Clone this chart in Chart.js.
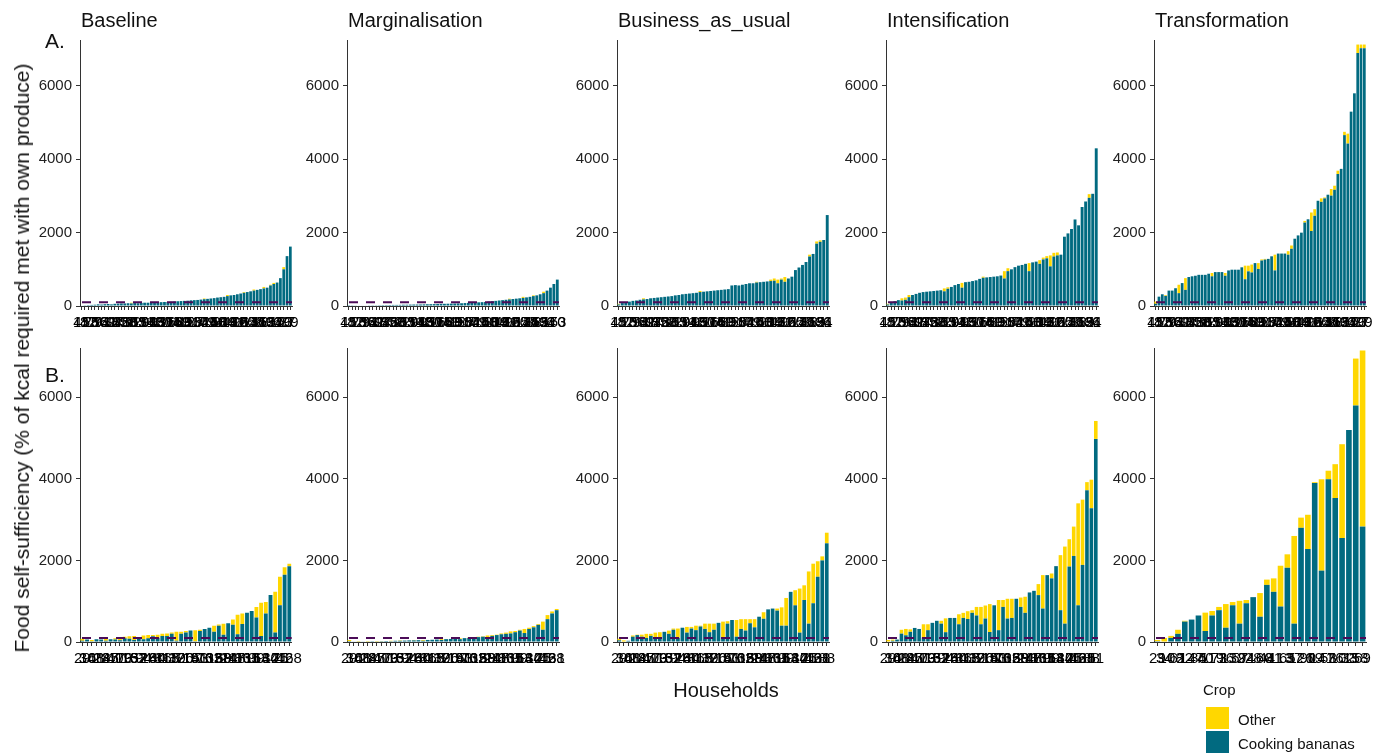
<!DOCTYPE html>
<html><head><meta charset="utf-8">
<script src="https://cdn.jsdelivr.net/npm/chart.js@4.4.1/dist/chart.umd.min.js"></script>
<style>
body{margin:0;background:#fff;width:1379px;height:754px;overflow:hidden;position:relative;font-family:"Liberation Sans",Arial,sans-serif;color:#111;}
.t{position:absolute;white-space:nowrap;line-height:20px;}
.title{font-size:20px;}
.sw{position:absolute;width:23px;height:22px;}
</style></head><body>
<script>
// ---------- data ----------
const hhRowA = "45 112 87 23 156 9 74 131 62 18 97 143 36 120 58 7 165 83 29 104 71 148 12 93 137 50 26 118 66 159 41 89 3 127 55 102 34 151 79 15 140 68 21 109 84 47 162 31 96 125 60 13 146 77 38 115 52 134 91 6 153 70 27 99 59 39".split(" ");
const hhRowB = "29 34 108 61 22 147 85 40 119 73 16 132 57 94 28 160 44 81 113 65 37 126 90 19 141 53 76 102 33 158 69 24 117 48 86 135 11 99 63 144 30 121 75 42 168 31 88 51".split(" ");

const scenarios = ["Baseline", "Marginalisation", "Business_as_usual", "Intensification", "Transformation"];
const yTickValues = [0, 2000, 4000, 6000];
const refValue = 100;

// Row A
const baseA_ban = [15,20,25,30,35,45,40,50,55,45, 60,65,70,70,75,70,80,75,85,90, 90,95,100,100,105,110,110,115,120,130,
  135,140,145,155,160,165,175,185,195,205, 215,230,240,250,270,290,300,320,340,360, 380,400,420,440,460,480,500,560,600,640, 760,1000,1360,1620];
const baseA_oth = [0,0,0,0,0,0,0,0,0,0, 0,0,0,0,0,20,0,0,0,0, 0,0,0,0,0,0,0,0,0,0,
  0,0,0,0,0,0,0,20,0,0, 0,0,0,0,30,0,0,0,0,20, 0,0,30,0,0,40,0,20,30,0, 0,60,0,0];
const margA_ban = [5,8,10,12,15,15,18,20,20,22, 25,25,28,30,30,32,35,35,38,40, 40,42,45,48,50,52,55,58,60,62,
  65,68,70,75,80,85,90,95,100,105, 110,120,130,140,150,160,170,180,190,200, 210,220,235,250,270,290,320,350,420,500, 600,720];
const margA_oth = [0,0,0,0,0,0,0,0,0,0, 0,0,0,0,0,0,0,0,0,0, 0,0,0,0,0,0,0,0,0,0,
  0,0,0,0,0,0,0,0,0,0, 0,0,0,0,0,0,0,20,0,0, 0,30,0,0,20,0,0,40,0,0, 0,0];
const bauA_ban = [40,80,100,120,140,150,170,180,190,210, 220,230,240,250,260,270,290,300,320,330, 340,350,360,380,390,400,410,420,430,440,
  450,460,560,570,560,580,600,620,620,640, 650,660,670,680,690,620,720,660,750,800, 980,1050,1120,1200,1350,1420,1700,1750,1800,2480];
const bauA_oth = [20,0,0,0,0,0,0,30,0,0, 0,0,0,0,0,0,0,0,0,0, 0,0,0,30,0,0,0,0,0,0,
  0,0,0,0,0,0,0,0,0,20, 0,0,0,40,60,100,30,130,0,0, 0,0,0,0,50,0,60,40,0,0];
const intA_ban = [40,110,130,160,150,170,240,300,330,360, 380,390,400,410,420,430,400,470,520,570, 600,500,650,660,680,700,740,770,780,790,
  800,810,830,750,950,1000,1060,1100,1120,1150, 950,1190,1210,1150,1270,1300,1080,1350,1380,1400, 1890,1980,2100,2360,2200,2700,2850,2950,3060,4300];
const intA_oth = [20,0,0,0,60,60,60,0,0,0, 0,0,0,0,0,0,80,40,0,0, 0,130,0,0,0,0,0,30,0,0,
  0,0,0,200,80,0,0,0,0,0, 220,0,0,100,50,60,300,100,80,0, 0,0,0,0,0,0,0,100,0,0];
const traA_ban = [60,255,320,275,420,420,485,350,625,440, 790,810,825,850,850,850,880,810,925,925, 925,825,970,990,990,990,1055,730,945,915,
  1170,1010,1240,1265,1285,1355,970,1430,1430,1430, 1400,1560,1835,1925,2000,2275,2365,2045,2460,2870, 2840,2935,3035,3010,3170,3600,3740,4660,4430,5300, 5800,6900,7030,7030];
const traA_oth = [60,0,0,20,0,0,0,230,0,320, 0,0,0,0,0,0,0,90,0,0, 0,75,0,0,0,0,0,370,155,215,
  0,160,30,20,0,0,430,0,0,0, 95,90,0,0,0,45,0,505,180,0, 95,25,0,180,110,90,0,90,270,0, 0,230,100,100];

// Row B
const baseB_ban = [30,60,20,70,60,30,70,60,40,90, 80,50,120,70,90,140,100,150,150,200, 30,200,230,280,20,270,320,350,250,400,
  180,460,420,190,440,720,760,600,150,700, 1150,230,900,1650,1860];
const baseB_oth = [50,0,30,0,0,60,0,30,80,40, 60,100,0,90,80,30,80,50,60,30, 220,50,40,0,270,30,0,0,150,30,
  270,0,130,480,260,0,0,260,810,280, 0,1000,700,180,60];
const margB_ban = [20,10,10,15,10,20,15,20,25,20, 30,30,35,40,40,45,30,50,55,60, 50,70,75,80,70,95,100,110,120,130,
  100,150,170,190,200,210,240,280,220,320, 360,420,300,560,700,780];
const margB_oth = [30,0,10,0,10,0,10,5,0,10, 0,10,0,0,10,0,20,0,0,0, 20,0,0,0,20,0,10,10,10,10,
  60,20,10,20,30,50,30,20,100,30, 30,20,200,100,50,30];
const bauB_ban = [40,0,30,130,170,130,100,150,80,120, 250,200,300,100,350,230,330,290,380,320, 240,300,470,100,450,540,130,320,280,460,
  360,620,570,800,820,770,400,400,1230,900, 230,1030,450,950,1600,2000,2420];
const bauB_oth = [40,40,0,30,10,50,100,50,150,120, 0,80,30,230,0,140,40,110,20,130, 210,150,0,400,60,0,410,240,280,100,
  200,0,160,0,0,50,450,680,0,370, 1080,360,1280,970,380,100,260];
const intB_ban = [0,30,60,205,165,250,345,320,105,290, 470,520,450,240,590,590,435,590,565,715, 650,435,575,245,900,290,860,575,590,1060,
  860,715,1215,1255,1150,820,1640,1560,1860,780, 450,1850,2110,900,1890,3720,3280,4980];
const intB_oth = [50,30,0,95,155,60,0,0,330,145, 0,0,70,340,0,0,245,125,190,65, 210,425,320,685,0,740,170,485,470,0,
  230,395,0,0,270,820,0,120,0,1350, 1890,670,720,2500,1600,200,700,440];
const traB_ban = [20,0,100,200,500,550,650,270,650,780, 350,900,450,950,1100,620,1400,1230,870,1820,
  450,2800,2280,3900,1750,3990,3530,2550,5200,5800, 2830];
const traB_oth = [30,100,50,100,20,0,0,450,110,80, 580,80,560,80,0,580,130,330,1000,330,
  2150,250,840,20,2240,210,830,2300,0,1150, 4320];

// ---------- drawing ----------
const COL_BAN = '#016a80', COL_OTH = '#ffd700', COL_REF = '#4b0c58';
const axisX = [80, 347, 617, 886, 1154];

const refLine = {
  id: 'refLine',
  afterDatasetsDraw(chart) {
    const {ctx, chartArea: a, scales: {y}} = chart;
    const py = y.getPixelForValue(refValue);
    ctx.save();
    ctx.strokeStyle = COL_REF; ctx.lineWidth = 2; ctx.setLineDash([9, 8]);
    ctx.beginPath(); ctx.moveTo(a.left + 2, py); ctx.lineTo(a.right, py); ctx.stroke();
    ctx.restore();
  }
};

function panel(left, top, height, ids, ban, oth, ymax) {
  const c = document.createElement('canvas');
  c.width = 288; c.height = height;
  c.style.cssText = `position:absolute;left:${left}px;top:${top}px;width:288px;height:${height}px`;
  document.body.appendChild(c);
  new Chart(c, {
    type: 'bar',
    data: {
      labels: ids.slice(0, ban.length),
      datasets: [
        {label: 'Cooking bananas', data: ban, backgroundColor: COL_BAN, barPercentage: 0.82, categoryPercentage: 1},
        {label: 'Other', data: oth, backgroundColor: COL_OTH, barPercentage: 0.82, categoryPercentage: 1}
      ]
    },
    options: {
      responsive: false, animation: false, devicePixelRatio: 1,
      layout: {padding: {top: 14, right: 14, left: 0, bottom: 0}},
      plugins: {legend: {display: false}, tooltip: {enabled: false}},
      scales: {
        x: {
          stacked: true, offset: true,
          grid: {offset: false, drawOnChartArea: false, tickLength: 4, color: '#333', lineWidth: 1},
          border: {color: '#333'},
          ticks: {autoSkip: false, maxRotation: 0, minRotation: 0, padding: 4, color: '#000', font: {size: 15, family: 'Liberation Sans'}},
          afterFit(s) { s.height = 28; }
        },
        y: {
          stacked: true, min: 0, max: ymax,
          ticks: {padding: 4, color: '#222', font: {size: 15, family: 'Liberation Sans'}, callback: v => String(v)},
          grid: {drawOnChartArea: false, tickLength: 4, color: '#333'},
          border: {color: '#333'},
          afterFit(s) { s.width = 62; },
          afterBuildTicks(s) { s.ticks = yTickValues.map(v => ({value: v})); }
        }
      }
    },
    plugins: [refLine]
  });
}

const rowA = [[baseA_ban, baseA_oth], [margA_ban, margA_oth], [bauA_ban, bauA_oth], [intA_ban, intA_oth], [traA_ban, traA_oth]];
const rowB = [[baseB_ban, baseB_oth], [margB_ban, margB_oth], [bauB_ban, bauB_oth], [intB_ban, intB_oth], [traB_ban, traB_oth]];
rowA.forEach((d, i) => panel(axisX[i] - 62, 26, 308, hhRowA, d[0], d[1], 7254));
rowB.forEach((d, i) => panel(axisX[i] - 62, 334, 336, hhRowB, d[0], d[1], 7209));

function txt(s, css, cls) {
  const e = document.createElement('div');
  e.className = 't ' + (cls || ''); e.textContent = s; e.style.cssText += css;
  document.body.appendChild(e); return e;
}
scenarios.forEach((s, i) => txt(s, `left:${axisX[i] + 1}px;top:10px;`, 'title'));
txt('A.', 'left:45px;top:31px;font-size:21px;');
txt('B.', 'left:45px;top:365px;font-size:21px;');
txt('Food self-sufficiency (% of kcal required met with own produce)', 'left:22px;top:358px;font-size:21px;transform:translate(-50%,-50%) rotate(-90deg);');
txt('Households', 'left:726px;top:690px;font-size:20px;transform:translate(-50%,-50%);');
txt('Crop', 'left:1203px;top:680px;font-size:15px;');
txt('Other', 'left:1238px;top:710px;font-size:15px;');
txt('Cooking bananas', 'left:1238px;top:734px;font-size:15px;');
const s1 = document.createElement('div'); s1.className = 'sw'; s1.style.cssText = `left:1206px;top:707px;background:${COL_OTH}`; document.body.appendChild(s1);
const s2 = document.createElement('div'); s2.className = 'sw'; s2.style.cssText = `left:1206px;top:731px;background:${COL_BAN}`; document.body.appendChild(s2);
</script>
</body></html>
